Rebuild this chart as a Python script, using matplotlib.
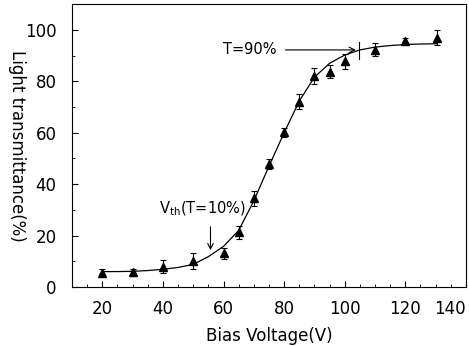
import matplotlib
matplotlib.use('Agg')
import matplotlib.pyplot as plt
from matplotlib.ticker import MultipleLocator

# measured points (bias voltage, transmittance, error)
voltage = [20, 30, 40, 50, 60, 65, 70, 75, 80, 85, 90, 95, 100, 110, 120, 130.5]
transmit = [5.6, 5.7, 7.9, 10.1, 13.1, 21.2, 34.5, 47.9, 60.2, 72.1, 82.1, 83.8, 87.7, 92.2, 95.8, 97.0]
err = [1.3, 1.3, 2.5, 3.0, 2.2, 2.5, 3.0, 2.0, 1.8, 3.0, 3.0, 2.5, 3.0, 2.5, 1.2, 2.8]

# fitted curve
fit_v = [20, 25, 30, 35, 40, 45, 50, 55, 60, 65, 70, 75, 80, 85, 90, 95, 100, 105, 110, 115, 120, 125, 130.5]
fit_t = [6.0, 6.0, 6.1, 6.4, 6.9, 7.6, 8.8, 11.8, 15.8, 22.0, 33.5, 47.0, 60.0, 72.3, 81.6, 87.0, 90.2, 92.2, 93.3, 93.9, 94.3, 94.5, 94.6]

fig = plt.figure(figsize=(4.69, 3.46), dpi=100)
ax = fig.add_axes([0.1535, 0.1705, 0.84, 0.8175])

ax.plot(fit_v, fit_t, color='black', lw=0.9)
ax.errorbar(voltage, transmit, yerr=err, fmt='^', color='black', ms=5.5,
            elinewidth=0.8, capsize=2.2, capthick=0.8)

# T=90% marker
ax.annotate('', xy=(104.6, 92.2), xytext=(79.5, 92.2),
            arrowprops=dict(arrowstyle='->', color='black', lw=0.8))
ax.plot([104.6, 104.6], [88.6, 95.4], color='black', lw=0.8)
ax.text(77.5, 92.2, 'T=90%', ha='right', va='center', fontsize=10.5)

# threshold marker
ax.annotate('', xy=(55.7, 13.2), xytext=(55.7, 24.5),
            arrowprops=dict(arrowstyle='->', color='black', lw=0.8))
ax.text(53, 27, r'V$_{\mathrm{th}}$(T=10%)', ha='center', va='bottom', fontsize=10.5)

ax.set_xlim(10, 140)
ax.set_ylim(0, 110)
ax.set_xticks([20, 40, 60, 80, 100, 120, 140])
ax.set_yticks([0, 20, 40, 60, 80, 100])
ax.xaxis.set_minor_locator(MultipleLocator(5))
ax.yaxis.set_minor_locator(MultipleLocator(10))
ax.tick_params(which='both', direction='in', labelsize=12)
ax.tick_params(which='major', length=4)
ax.tick_params(which='minor', length=2)
ax.tick_params(axis='x', which='major', pad=9)
ax.tick_params(axis='y', which='major', pad=11)
# last x label sits against the figure edge
ax.get_xticklabels()[-1].set_horizontalalignment('right')

ax.set_xlabel('Bias Voltage(V)', fontsize=12, labelpad=7)
ax.set_ylabel('Light transmittance(%)', fontsize=12, rotation=270, labelpad=12)

fig.savefig('out.png', dpi=100)
